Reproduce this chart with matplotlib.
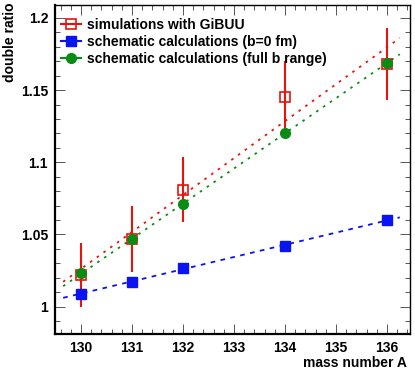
import matplotlib

matplotlib.use("Agg")
import matplotlib.pyplot as plt
import numpy as np
from matplotlib.lines import Line2D
from matplotlib.ticker import MultipleLocator, FormatStrFormatter

plt.rcParams["font.family"] = ["Liberation Sans", "DejaVu Sans"]
plt.rcParams["font.weight"] = "bold"

# data
mass_a = [130, 131, 132, 134, 136]
gibuu = [1.022, 1.047, 1.081, 1.1455, 1.168]
gibuu_err = [0.022, 0.023, 0.0225, 0.025, 0.025]
schem_b0 = [1.009, 1.017, 1.027, 1.042, 1.060]
schem_full = [1.023, 1.047, 1.071, 1.120, 1.169]
fit_range = [129.65, 136.25]

RED = "#e8140c"
BLUE = "#0a14f0"
GREEN = "#0a8c14"

fig = plt.figure(figsize=(4.15, 3.71), dpi=100)
ax = fig.add_axes([0.1325, 0.0997, 0.988 - 0.1325, 0.9865 - 0.0997])

xfit = np.array(fit_range)
for ys, col, dash in [
    (gibuu, RED, (1.4, 3.2)),
    (schem_full, GREEN, (1.4, 3.2)),
    (schem_b0, BLUE, (2.6, 3.0)),
]:
    p = np.polyfit(mass_a, ys, 1)
    ax.plot(xfit, np.polyval(p, xfit), color=col, lw=1.3, dashes=dash, zorder=2)

ax.errorbar(mass_a, gibuu, yerr=gibuu_err, fmt="s", color=RED, mfc="none", mec=RED,
            ms=7, mew=1.2, elinewidth=1.5, capsize=0, zorder=3)
ax.plot(mass_a, schem_b0, "s", color=BLUE, ms=7, zorder=4)
ax.plot(mass_a, schem_full, "o", color=GREEN, ms=7, zorder=4)

ax.set_xlim(129.49, 136.45)
ax.set_ylim(0.981, 1.209)

ax.xaxis.set_major_locator(MultipleLocator(1))
ax.xaxis.set_minor_locator(MultipleLocator(0.2))
ax.yaxis.set_major_locator(MultipleLocator(0.05))
ax.yaxis.set_minor_locator(MultipleLocator(0.01))
ax.yaxis.set_major_formatter(FormatStrFormatter("%g"))
ax.tick_params(which="both", direction="in", top=True, right=True, labelsize=10,
               color="#555555", width=0.7)
ax.tick_params(which="major", length=7, pad=5)
ax.tick_params(which="minor", length=3.5)
for lab in ax.get_xticklabels() + ax.get_yticklabels():
    lab.set_fontweight("bold")

for side in ["left", "bottom"]:
    ax.spines[side].set_linewidth(1.6)
for side in ["top", "right"]:
    ax.spines[side].set_linewidth(1.0)

# axis titles placed like ROOT does (right / top aligned)
fig.text(407 / 415, 1 - 363 / 371, "mass number A", ha="right", va="center",
         fontsize=10, fontweight="bold")
fig.text(10 / 415, 1 - 3 / 371, "double ratio", ha="center", va="top", rotation=90,
         fontsize=10, fontweight="bold")

handles = [
    Line2D([], [], color=RED, marker="s", mfc="none", mec=RED, ms=7, mew=1.2, lw=1.5),
    Line2D([], [], color=BLUE, marker="s", ms=7, lw=1.5),
    Line2D([], [], color=GREEN, marker="o", ms=7, lw=1.5),
]
labels = [
    "simulations with GiBUU",
    "schematic calculations (b=0 fm)",
    "schematic calculations (full b range)",
]
ax.legend(handles, labels, loc="upper left", bbox_to_anchor=(-0.01, 0.99), frameon=False,
          handlelength=1.4, handletextpad=0.45, labelspacing=0.2,
          borderaxespad=0.3, prop={"weight": "bold", "size": 10})

fig.savefig("out.png", dpi=100)
